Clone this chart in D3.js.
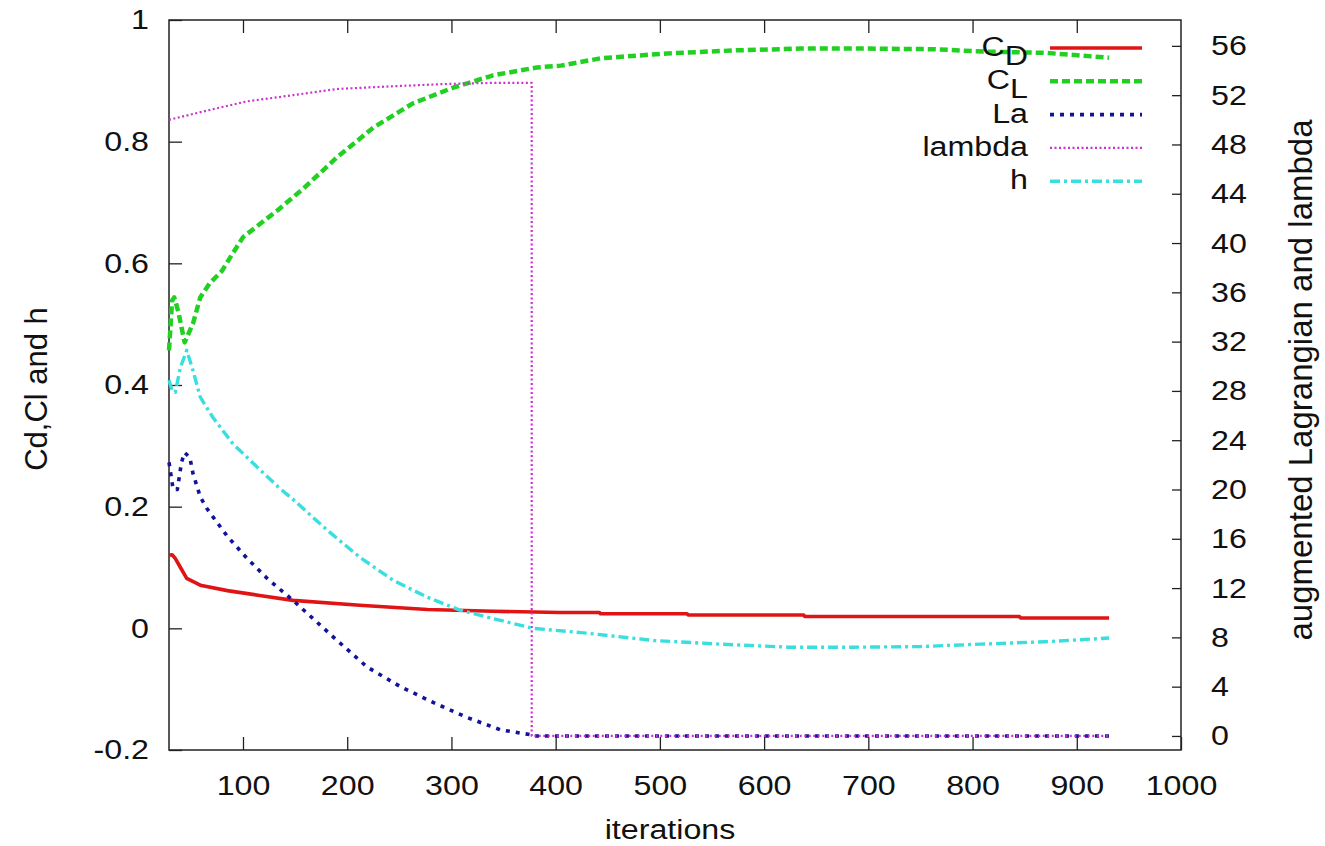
<!DOCTYPE html>
<html>
<head>
<meta charset="utf-8">
<script src="https://cdn.jsdelivr.net/npm/d3@7"></script>
<style>
  html, body { margin: 0; padding: 0; background: #fff; }
  svg { display: block; }
  text { font-family: "Liberation Sans", Arial, Helvetica, sans-serif; fill: #111; }
</style>
</head>
<body>
<script>
// Convergence history: [iteration, value]
// Left axis (Cd, Cl and h)
const cdSeries = [
  [29, 0.120], [32, 0.121], [35, 0.115], [40, 0.100], [46, 0.082], [59, 0.071],
  [85, 0.062], [116, 0.054], [148, 0.046], [212, 0.038], [277, 0.031], [340, 0.028],
  [404, 0.026], [442, 0.026], [443, 0.024], [526, 0.024], [527, 0.022], [638, 0.022],
  [639, 0.0195], [845, 0.0195], [846, 0.017], [931, 0.017]
];
const clSeries = [
  [29, 0.457], [32, 0.539], [34, 0.544], [38, 0.520], [44, 0.470], [52, 0.501],
  [59, 0.544], [68, 0.567], [80, 0.588], [86, 0.605], [100, 0.643], [133, 0.687],
  [158, 0.723], [190, 0.774], [225, 0.823], [263, 0.863], [302, 0.889], [340, 0.909],
  [382, 0.922], [405, 0.925], [443, 0.937], [507, 0.945], [571, 0.950], [635, 0.953],
  [699, 0.953], [763, 0.952], [811, 0.948], [870, 0.946], [931, 0.938]
];
const hSeries = [
  [29, 0.408], [32, 0.391], [35, 0.388], [40, 0.429], [46, 0.457], [52, 0.424],
  [59, 0.380], [71, 0.347], [90, 0.304], [110, 0.271], [134, 0.232], [148, 0.212],
  [181, 0.161], [212, 0.117], [244, 0.079], [277, 0.051], [308, 0.030], [340, 0.016],
  [378, 0.000], [424, -0.007], [430, -0.008], [494, -0.020], [558, -0.026],
  [623, -0.031], [686, -0.031], [750, -0.030], [808, -0.026], [870, -0.022], [931, -0.016]
];
// Right axis (augmented Lagrangian and lambda)
const laSeries = [
  [29, 22.2], [33, 20.0], [37, 20.0], [41, 22.2], [44, 23.0], [49, 22.6], [52, 21.3],
  [59, 19.4], [65, 18.5], [71, 17.8], [85, 16.2], [104, 14.4], [123, 12.8], [148, 11.0],
  [187, 8.0], [219, 5.6], [251, 4.0], [283, 2.7], [315, 1.5], [347, 0.5], [376, 0.1],
  [377, 0.0], [931, 0.0]
];
const lambdaSeries = [
  [29, 50.0], [68, 50.8], [104, 51.5], [148, 52.0], [190, 52.5], [238, 52.7],
  [292, 52.9], [340, 53.0], [377, 53.0], [377.01, 0.0], [931, 0.0]
];

const xTicks = [100, 200, 300, 400, 500, 600, 700, 800, 900, 1000];
const yLeftTicks = [-0.2, 0, 0.2, 0.4, 0.6, 0.8, 1];
const yRightTicks = [0, 4, 8, 12, 16, 20, 24, 28, 32, 36, 40, 44, 48, 52, 56];

const legendItems = [
  { main: "C", sub: "D", key: "cd" },
  { main: "C", sub: "L", key: "cl" },
  { main: "La", sub: null, key: "la" },
  { main: "lambda", sub: null, key: "lambda" },
  { main: "h", sub: null, key: "h" }
];

const styles = {
  cd:     { color: "#e01414", width: 3.6, dash: null },
  cl:     { color: "#22d022", width: 4.5, dash: "8,4" },
  la:     { color: "#12129a", width: 3.6, dash: "4,6" },
  lambda: { color: "#cc33cc", width: 2.2, dash: "2,2.5" },
  h:      { color: "#3adede", width: 3.4, dash: "10,4,3,4" }
};

const W = 1325, H = 846;
const plot = { left: 169, right: 1181, top: 20, bottom: 750 };
const SX = 1.15;     // horizontal stretch of the lettering
const FS = 28;       // base font size

const svg = d3.select("body").append("svg").attr("width", W).attr("height", H);

const x = d3.scaleLinear().domain([29, 1000]).range([plot.left, plot.right]);
const yL = d3.scaleLinear().domain([-0.2, 1]).range([plot.bottom, plot.top]);
const yR = d3.scaleLinear().domain([-1.14, 58.1]).range([plot.bottom, plot.top]);

const fmtLeft = d => (d < 0 ? "-" : "") + (d === 0 ? "0" : String(+Math.abs(d).toFixed(1)));
const fmtInt = d => String(d);

// Bottom axis
const gx = svg.append("g").attr("transform", `translate(0,${plot.bottom})`)
  .call(d3.axisBottom(x).tickValues(xTicks).tickSizeInner(-13).tickSizeOuter(0).tickPadding(25).tickFormat(fmtInt));
gx.selectAll("text").style("font-size", FS + "px").attr("transform", `scale(${SX},1)`);

// Mirrored ticks on top
svg.append("g").attr("transform", `translate(0,${plot.top})`)
  .call(d3.axisTop(x).tickValues(xTicks.filter(d => d < 1000)).tickSizeInner(-13).tickSizeOuter(0).tickFormat(""));

// Left axis
const gyl = svg.append("g").attr("transform", `translate(${plot.left},0)`)
  .call(d3.axisLeft(yL).tickValues(yLeftTicks).tickSizeInner(-13).tickSizeOuter(0).tickFormat(fmtLeft));
gyl.selectAll("text").style("font-size", FS + "px").attr("x", -20 / SX).attr("transform", `scale(${SX},1)`);

// Right axis
const gyr = svg.append("g").attr("transform", `translate(${plot.right},0)`)
  .call(d3.axisRight(yR).tickValues(yRightTicks).tickSizeInner(-9).tickSizeOuter(0).tickFormat(fmtInt));
gyr.selectAll("text").style("font-size", FS + "px").attr("x", 30 / SX).attr("transform", `scale(${SX},1)`);

svg.selectAll(".domain").remove();
svg.selectAll(".tick line").attr("stroke", "#222").attr("stroke-width", 1.3);
svg.selectAll(".tick text").attr("fill", "#111");

// Frame
svg.append("rect")
  .attr("x", plot.left).attr("y", plot.top)
  .attr("width", plot.right - plot.left).attr("height", plot.bottom - plot.top)
  .attr("fill", "none").attr("stroke", "#222").attr("stroke-width", 1.5);

// Axis titles
svg.append("g").attr("transform", `translate(670,839) scale(${SX},1)`)
  .append("text").attr("text-anchor", "middle").style("font-size", FS + "px").text("iterations");
svg.append("text").attr("transform", "translate(47,389) rotate(-90)").attr("text-anchor", "middle")
  .style("font-size", "31px").text("Cd,Cl and h");
svg.append("text").attr("transform", "translate(1312,380) rotate(-90)").attr("text-anchor", "middle")
  .style("font-size", "33px").text("augmented Lagrangian and lambda");

// Series
const lineL = d3.line().x(d => x(d[0])).y(d => yL(d[1]));
const lineR = d3.line().x(d => x(d[0])).y(d => yR(d[1]));

const g = svg.append("g");
const drawSeries = (data, gen, key) => {
  const s = styles[key];
  g.append("path").datum(data).attr("d", gen)
    .attr("fill", "none").attr("stroke", s.color).attr("stroke-width", s.width)
    .attr("stroke-dasharray", s.dash).attr("stroke-linejoin", "round");
};
drawSeries(cdSeries, lineL, "cd");
drawSeries(clSeries, lineL, "cl");
drawSeries(laSeries, lineR, "la");
drawSeries(lambdaSeries, lineR, "lambda");
drawSeries(hSeries, lineL, "h");

// Legend
const legend = svg.append("g");
legendItems.forEach((item, i) => {
  const ly = 48 + i * 33.3;
  const s = styles[item.key];
  legend.append("line").attr("x1", 1050).attr("x2", 1142).attr("y1", ly).attr("y2", ly)
    .attr("stroke", s.color).attr("stroke-width", s.width).attr("stroke-dasharray", s.dash);
  const t = legend.append("g").attr("transform", `translate(1028,${ly + 8}) scale(${SX},1)`)
    .append("text").attr("text-anchor", "end").style("font-size", FS + "px");
  t.append("tspan").text(item.main);
  if (item.sub) t.append("tspan").attr("dy", 9).text(item.sub);
});
</script>
</body>
</html>
